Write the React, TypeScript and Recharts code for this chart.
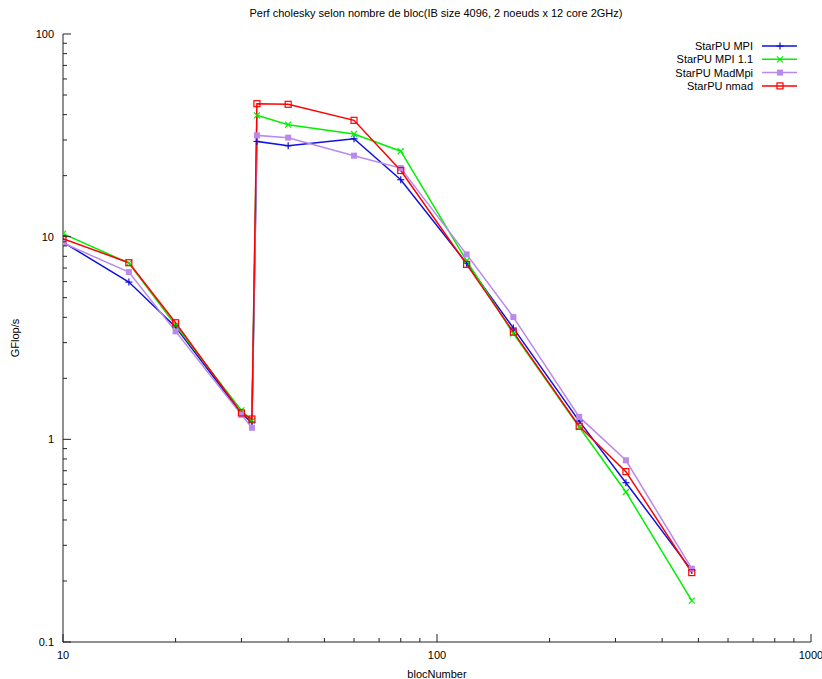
import { Line, LineChart, XAxis, YAxis } from 'recharts'

const blocNumber = [10, 15, 20, 30, 32, 33, 40, 60, 80, 120, 160, 240, 320, 480]
const starpuMpi = [9.4, 5.97, 3.58, 1.34, 1.21, 29.5, 28.1, 30.4, 19.1, 7.4, 3.54, 1.23, 0.611, 0.225]
const starpuMpi11 = [10.35, 7.4, 3.65, 1.39, 1.23, 39.7, 35.7, 32.1, 26.4, 7.6, 3.33, 1.15, 0.55, 0.16]
const starpuMadMpi = [9.3, 6.69, 3.41, 1.32, 1.14, 31.6, 30.8, 25.1, 21.8, 8.18, 4.01, 1.29, 0.788, 0.23]
const starpuNmad = [9.78, 7.44, 3.76, 1.35, 1.26, 45.3, 45.0, 37.5, 21.2, 7.3, 3.38, 1.16, 0.693, 0.22]

const xTicks = [10, 20, 30, 40, 50, 60, 70, 80, 90, 100, 200, 300, 400, 500, 600, 700, 800, 900, 1000]
const xMajor = [10, 100, 1000]
const yTicks = [
  0.1, 0.2, 0.3, 0.4, 0.5, 0.6, 0.7, 0.8, 0.9, 1, 2, 3, 4, 5, 6, 7, 8, 9, 10, 20, 30, 40, 50, 60, 70, 80, 90, 100,
]
const yMajor = [0.1, 1, 10, 100]

const FONT = '"Liberation Sans", Arial, sans-serif'
const AXIS = '#222'

const series = [
  { key: 'mpi', name: 'StarPU MPI', color: '#1010e0', shape: 'plus', values: starpuMpi },
  { key: 'mpi11', name: 'StarPU MPI 1.1', color: '#00f000', shape: 'cross', values: starpuMpi11 },
  { key: 'madmpi', name: 'StarPU MadMpi', color: '#bb88ee', shape: 'filled', values: starpuMadMpi },
  { key: 'nmad', name: 'StarPU nmad', color: '#ff0000', shape: 'square', values: starpuNmad },
]

const data = blocNumber.map((b, i) => {
  const row: Record<string, number> = { bloc: b }
  series.forEach((s) => (row[s.key] = s.values[i]))
  return row
})

function Marker({ cx, cy, shape, color }: { cx: number; cy: number; shape: string; color: string }) {
  if (shape === 'plus')
    return (
      <g stroke={color} strokeWidth={1.2}>
        <line x1={cx - 3.5} x2={cx + 3.5} y1={cy} y2={cy} />
        <line x1={cx} x2={cx} y1={cy - 3.5} y2={cy + 3.5} />
      </g>
    )
  if (shape === 'cross')
    return (
      <g stroke={color} strokeWidth={1.2}>
        <line x1={cx - 3} x2={cx + 3} y1={cy - 3} y2={cy + 3} />
        <line x1={cx - 3} x2={cx + 3} y1={cy + 3} y2={cy - 3} />
      </g>
    )
  if (shape === 'filled') return <rect x={cx - 3} y={cy - 3} width={6} height={6} fill={color} />
  return <rect x={cx - 3} y={cy - 3} width={6} height={6} fill="none" stroke={color} strokeWidth={1.2} />
}

function BottomTick({ x, y, payload }: any) {
  const major = xMajor.includes(payload.value)
  return (
    <g>
      <line x1={x} x2={x} y1={y} y2={y - (major ? 8 : 4)} stroke={AXIS} />
      {major && (
        <text x={x} y={y + 17} textAnchor="middle" fontSize={11} fontFamily={FONT} fill="#000">
          {payload.value}
        </text>
      )}
    </g>
  )
}

function TopTick({ x, y, payload }: any) {
  const major = xMajor.includes(payload.value)
  return <line x1={x} x2={x} y1={y} y2={y + (major ? 8 : 4)} stroke={AXIS} />
}

function LeftTick({ x, y, payload }: any) {
  const major = yMajor.includes(payload.value)
  return (
    <g>
      <line x1={x} x2={x + (major ? 8 : 4)} y1={y} y2={y} stroke={AXIS} />
      {major && (
        <text x={x - 9} y={y + 4} textAnchor="end" fontSize={11} fontFamily={FONT} fill="#000">
          {payload.value}
        </text>
      )}
    </g>
  )
}

function RightTick({ x, y, payload }: any) {
  const major = yMajor.includes(payload.value)
  return <line x1={x} x2={x - (major ? 8 : 4)} y1={y} y2={y} stroke={AXIS} />
}

export default function App() {
  return (
    <div style={{ position: 'absolute', left: 0, top: 0, background: '#fff' }}>
      <LineChart width={822} height={679} data={data} margin={{ top: 34, right: 11, bottom: 0, left: 0 }}>
        <XAxis
          dataKey="bloc"
          type="number"
          scale="log"
          domain={[10, 1000]}
          ticks={xTicks}
          interval={0}
          height={37}
          tickSize={0}
          tickMargin={0}
          tick={<BottomTick />}
          stroke={AXIS}
          allowDataOverflow
        />
        <XAxis
          xAxisId="top"
          orientation="top"
          type="number"
          scale="log"
          domain={[10, 1000]}
          ticks={xTicks}
          interval={0}
          height={0}
          tickSize={0}
          tickMargin={0}
          tick={<TopTick />}
          stroke={AXIS}
          allowDataOverflow
        />
        <YAxis
          type="number"
          scale="log"
          domain={[0.1, 100]}
          ticks={yTicks}
          interval={0}
          width={63}
          tickSize={0}
          tickMargin={0}
          tick={<LeftTick />}
          stroke={AXIS}
          allowDataOverflow
        />
        <YAxis
          yAxisId="right"
          orientation="right"
          type="number"
          scale="log"
          domain={[0.1, 100]}
          ticks={yTicks}
          interval={0}
          width={0}
          tickSize={0}
          tickMargin={0}
          tick={<RightTick />}
          stroke={AXIS}
          allowDataOverflow
        />
        {series.map((s) => (
          <Line
            key={s.key}
            dataKey={s.key}
            name={s.name}
            type="linear"
            stroke={s.color}
            strokeWidth={1.5}
            isAnimationActive={false}
            dot={(p: any) => <Marker key={`${s.key}-${p.index}`} cx={p.cx} cy={p.cy} shape={s.shape} color={s.color} />}
            activeDot={false}
          />
        ))}
        <text x={436} y={17} textAnchor="middle" fontSize={11} fontFamily={FONT} fill="#000">
          Perf cholesky selon nombre de bloc(IB size 4096, 2 noeuds x 12 core 2GHz)
        </text>
        <text x={437} y={678} textAnchor="middle" fontSize={11} fontFamily={FONT} fill="#000">
          blocNumber
        </text>
        <text
          x={16}
          y={338}
          textAnchor="middle"
          fontSize={11}
          fontFamily={FONT}
          fill="#000"
          transform="rotate(-90 16 338)"
          dominantBaseline="middle"
        >
          GFlop/s
        </text>
        {series.map((s, i) => (
          <g key={`legend-${s.key}`}>
            <text x={753} y={50 + i * 13.3} textAnchor="end" fontSize={11} fontFamily={FONT} fill="#000">
              {s.name}
            </text>
            <line x1={762} x2={797} y1={46 + i * 13.3} y2={46 + i * 13.3} stroke={s.color} strokeWidth={1.5} />
            <Marker cx={780} cy={46 + i * 13.3} shape={s.shape} color={s.color} />
          </g>
        ))}
      </LineChart>
    </div>
  )
}
